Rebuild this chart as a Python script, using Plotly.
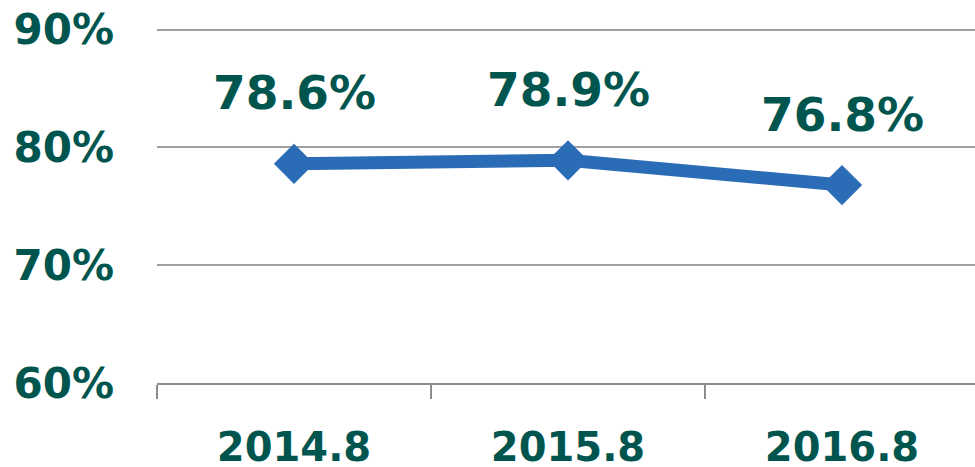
import plotly.graph_objects as go

categories = ["2014.8", "2015.8", "2016.8"]
values = [0.786, 0.789, 0.768]
y_ticks = [0.6, 0.7, 0.8, 0.9]
y_tick_labels = ["60%", "70%", "80%", "90%"]

TEXT = "#00554E"
LINE = "#2B6CB6"
GRID = "#A0A0A0"
FONT = "DejaVu Sans"

fig = go.Figure()
fig.add_trace(go.Scatter(
    x=categories, y=values, mode="lines+markers",
    line=dict(color=LINE, width=13),
    marker=dict(symbol="diamond", size=31, color=LINE),
    hoverinfo="skip",
))
for i, v in enumerate(values):
    fig.add_annotation(x=i, y=v, xref="x", yref="y", text=f"<b>{v*100:.1f}%</b>",
                       showarrow=False, yshift=71,
                       font=dict(family=FONT, size=47, color=TEXT))

fig.update_layout(
    width=979, height=467,
    margin=dict(l=157, r=0, t=25.5, b=84),
    paper_bgcolor="white", plot_bgcolor="white",
    showlegend=False,
    font=dict(family=FONT, color=TEXT),
)
fig.update_xaxes(
    type="category", showgrid=False, showline=True, linecolor="#8C8C8C", linewidth=2,
    ticks="outside", tickson="boundaries", ticklen=14, tickcolor="#8C8C8C", tickwidth=2,
    tickfont=dict(family=FONT, size=40, color=TEXT), ticklabelstandoff=28,
    tickvals=categories, ticktext=[f"<b>{c}</b>" for c in categories],
    range=[-0.5, 2.5], zeroline=False, automargin=False,
)
fig.update_yaxes(
    range=[0.6, 0.903], tickvals=y_ticks, ticktext=[f"<b>{t}</b>" for t in y_tick_labels],
    showgrid=True, gridcolor=GRID, gridwidth=2, zeroline=False, showline=False,
    tickfont=dict(family=FONT, size=42, color=TEXT), ticklabelstandoff=42,
    automargin=False,
)
fig.write_html("out.html", config={"displayModeBar": False},
               post_script="document.body.style.margin='0';document.body.style.overflow='hidden';")
